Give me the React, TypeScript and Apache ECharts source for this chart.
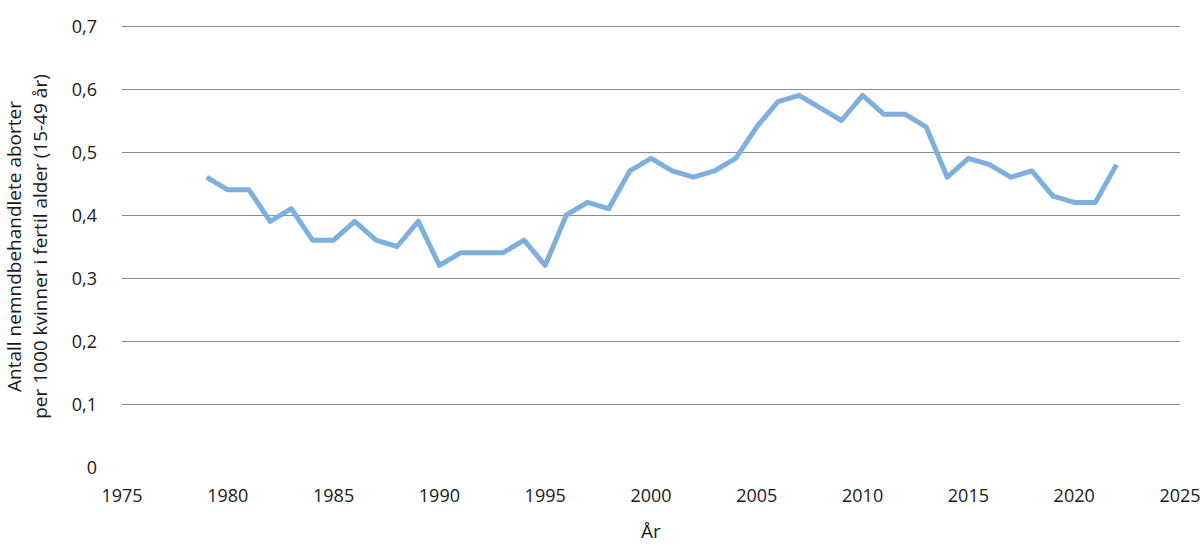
import React, { useEffect, useRef } from "react";
import * as echarts from "echarts";

const years: number[] = [
  1979, 1980, 1981, 1982, 1983, 1984, 1985, 1986, 1987, 1988, 1989, 1990, 1991,
  1992, 1993, 1994, 1995, 1996, 1997, 1998, 1999, 2000, 2001, 2002, 2003, 2004,
  2005, 2006, 2007, 2008, 2009, 2010, 2011, 2012, 2013, 2014, 2015, 2016, 2017,
  2018, 2019, 2020, 2021, 2022,
];

const values: number[] = [
  0.46, 0.44, 0.44, 0.39, 0.41, 0.36, 0.36, 0.39, 0.36, 0.35, 0.39, 0.32, 0.34,
  0.34, 0.34, 0.36, 0.32, 0.4, 0.42, 0.41, 0.47, 0.49, 0.47, 0.46, 0.47, 0.49,
  0.54, 0.58, 0.59, 0.57, 0.55, 0.59, 0.56, 0.56, 0.54, 0.46, 0.49, 0.48, 0.46,
  0.47, 0.43, 0.42, 0.42, 0.48,
];

const xName = "År";
const yName = "Antall nemndbehandlete aborter\nper 1000 kvinner i fertil alder (15-49 år)";

const FONT = "'Open Sans', 'Noto Sans', sans-serif";
const TEXT = "#1a1a1a";

export default function App() {
  const ref = useRef<HTMLDivElement>(null);

  useEffect(() => {
    document.body.style.margin = "0";
    if (!ref.current) return;
    const chart = echarts.init(ref.current, null, { renderer: "svg" });
    chart.setOption({
      animation: false,
      backgroundColor: "#ffffff",
      textStyle: { fontFamily: FONT, color: TEXT },
      grid: {
        left: 122,
        right: 20,
        top: 26,
        bottom: 92,
        containLabel: false,
        outerBoundsMode: "none",
      },
      xAxis: {
        type: "value",
        min: 1975,
        max: 2025,
        interval: 5,
        name: xName,
        nameLocation: "middle",
        nameGap: 54,
        nameTextStyle: { fontSize: 19, color: TEXT, fontFamily: FONT },
        axisLine: { show: false },
        axisTick: { show: false },
        splitLine: { show: false },
        axisLabel: {
          fontSize: 18,
          color: TEXT,
          fontFamily: FONT,
          margin: 19,
          formatter: (v: number) => String(v),
        },
      },
      yAxis: {
        type: "value",
        min: 0,
        max: 0.7,
        interval: 0.1,
        name: yName,
        nameLocation: "middle",
        nameGap: 69,
        nameTextStyle: { fontSize: 19, color: TEXT, fontFamily: FONT, lineHeight: 26 },
        axisLine: { show: false },
        axisTick: { show: false },
        splitLine: {
          show: true,
          showMinLine: false,
          lineStyle: { color: "#8c8c8c", width: 1 },
        },
        axisLabel: {
          fontSize: 18,
          color: TEXT,
          fontFamily: FONT,
          margin: 25,
          formatter: (v: number) => (v === 0 ? "0" : v.toFixed(1).replace(".", ",")),
        },
      },
      series: [
        {
          type: "line",
          data: years.map((y, i) => [y, values[i]]),
          showSymbol: false,
          symbol: "none",
          lineStyle: { color: "#7eb0df", width: 5, join: "round" },
          itemStyle: { color: "#7eb0df" },
        },
      ],
    });
    return () => chart.dispose();
  }, []);

  return <div ref={ref} style={{ width: 1200, height: 559 }} />;
}
